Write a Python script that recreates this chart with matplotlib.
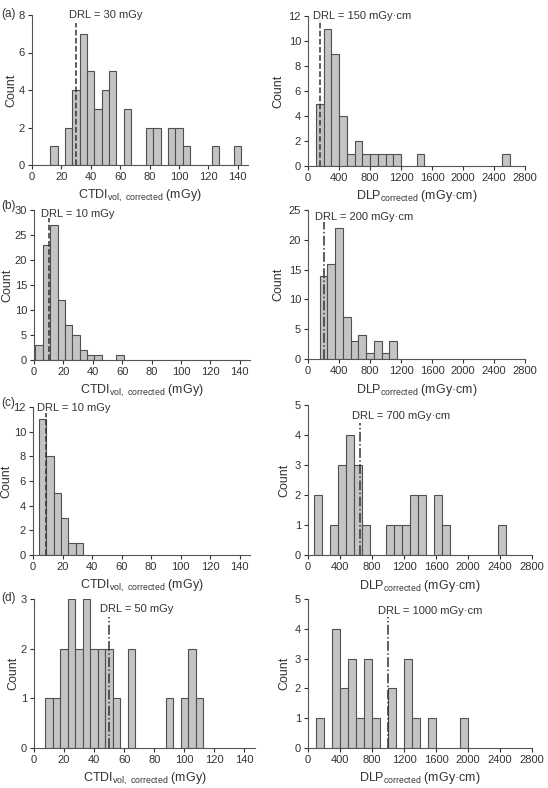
import matplotlib
matplotlib.use('Agg')
from matplotlib import pyplot as plt

plt.rcParams['font.family'] = ['Liberation Sans', 'DejaVu Sans']
plt.rcParams['mathtext.default'] = 'regular'

# bin centres and counts
a_ctdi_bins = [15, 25, 30, 35, 40, 45, 50, 55, 65, 80, 85, 95, 100, 105, 125, 140]
a_ctdi_counts = [1, 2, 4, 7, 5, 3, 4, 5, 3, 2, 2, 2, 2, 1, 1, 1]
a_dlp_bins = [150, 250, 350, 450, 550, 650, 750, 850, 950, 1050, 1150, 1450, 2550]
a_dlp_counts = [5, 11, 9, 4, 1, 2, 1, 1, 1, 1, 1, 1, 1]

b_ctdi_bins = [3.5, 8.5, 13.5, 18.5, 23.5, 28.5, 33.5, 38.5, 43.5, 58.5]
b_ctdi_counts = [3, 23, 27, 12, 7, 5, 2, 1, 1, 1]
b_dlp_bins = [200, 300, 400, 500, 600, 700, 800, 900, 1000, 1100]
b_dlp_counts = [14, 16, 22, 7, 3, 4, 1, 3, 1, 3]

c_ctdi_bins = [6.5, 11.5, 16.5, 21.5, 26.5, 31.5]
c_ctdi_counts = [11, 8, 5, 3, 1, 1]
c_dlp_bins = [125, 325, 425, 525, 625, 725, 1025, 1125, 1225, 1325, 1425, 1625, 1725, 2425]
c_dlp_counts = [2, 1, 3, 4, 3, 1, 1, 1, 1, 2, 2, 2, 1, 1]

d_ctdi_bins = [10, 15, 20, 25, 30, 35, 40, 45, 50, 55, 65, 90, 100, 105, 110]
d_ctdi_counts = [1, 1, 2, 3, 2, 3, 2, 2, 2, 1, 2, 1, 1, 2, 1]
d_dlp_bins = [150, 350, 450, 550, 650, 750, 850, 1050, 1250, 1350, 1550, 1950]
d_dlp_counts = [1, 4, 2, 3, 1, 3, 1, 2, 3, 1, 1, 1]

drl_labels = ['DRL = 30 mGy', 'DRL = 150 mGy\u00b7cm', 'DRL = 10 mGy', 'DRL = 200 mGy\u00b7cm',
              'DRL = 10 mGy', 'DRL = 700 mGy\u00b7cm', 'DRL = 50 mGy', 'DRL = 1000 mGy\u00b7cm']
drl_lines = [30, 150, 10, 200, 9, 650, 50, 1000]

W, H = 548, 788
fig = plt.figure(figsize=(W / 100, H / 100), dpi=100)

def box(x0, top, x1, bottom):
    return [x0 / W, 1 - bottom / H, (x1 - x0) / W, (bottom - top) / H]

panels = [
    # bins, counts, width, box, ymax, ystep, line top, text x, text y, style
    (a_ctdi_bins, a_ctdi_counts, 5, box(32, 15, 248, 165), 8, 2, 7.6, 25, 8.0, '--'),
    (a_dlp_bins, a_dlp_counts, 100, box(308, 16, 525, 166), 12, 2, 11.7, 60, 12.0, '--'),
    (b_ctdi_bins, b_ctdi_counts, 5, box(34, 210, 250, 360), 30, 5, 28.5, 4.5, 29.3, '--'),
    (b_dlp_bins, b_dlp_counts, 100, box(308, 210, 525, 359), 25, 5, 23.0, 95, 23.8, '-.'),
    (c_ctdi_bins, c_ctdi_counts, 5, box(33, 407, 250, 555), 12, 2, 11.5, 3, 11.9, '--'),
    (c_dlp_bins, c_dlp_counts, 100, box(308, 405, 532, 555), 5, 1, 4.4, 545, 4.63, '-.'),
    (d_ctdi_bins, d_ctdi_counts, 5, box(34, 599, 255, 748), 3, 1, 2.64, 44, 2.8, '-.'),
    (d_dlp_bins, d_dlp_counts, 100, box(308, 599, 532, 748), 5, 1, 4.4, 880, 4.6, '-.'),
]

tags = ['(a)', '(b)', '(c)', '(d)']
tag_y = [14, 206, 403, 598]

for i, (bins, counts, w, rect, ymax, ystep, ltop, tx, ty, ls) in enumerate(panels):
    ax = fig.add_axes(rect)
    ax.bar(bins, counts, width=w, color='#c4c4c4', edgecolor='#505050', linewidth=0.8)
    ax.vlines(drl_lines[i], 0, ltop, colors='#333333', linestyles=ls, linewidth=1.1)
    ax.text(tx, ty, drl_labels[i], fontsize=8, color='#333333', va='center', ha='left')
    ax.set_ylim(0, ymax)
    ax.set_yticks(range(0, ymax + 1, ystep))
    if i % 2 == 0:
        ax.set_xlim(0, 147)
        ax.set_xticks(range(0, 141, 20))
        ax.set_xlabel('CTDI$_{vol,\\ corrected}$ (mGy)', fontsize=9, color='#333333', labelpad=4)
        ax.set_ylabel('Count', fontsize=9, color='#333333', labelpad=1)
    else:
        ax.set_xlim(0, 2800)
        ax.set_xticks(range(0, 2801, 400))
        ax.set_xlabel('DLP$_{corrected}$ (mGy\u00b7cm)', fontsize=9, color='#333333', labelpad=4)
        ax.set_ylabel('Count', fontsize=9, color='#333333', labelpad=3)
    ax.spines['top'].set_visible(False)
    ax.spines['right'].set_visible(False)
    for s in ['left', 'bottom']:
        ax.spines[s].set_color('#555555')
    ax.tick_params(labelsize=8, colors='#333333', length=3, width=0.8, pad=2)

for t, y in zip(tags, tag_y):
    fig.text(1 / W, 1 - y / H, t, fontsize=8.5, color='#333333', va='center', ha='left')

fig.savefig('out.png', dpi=100)
